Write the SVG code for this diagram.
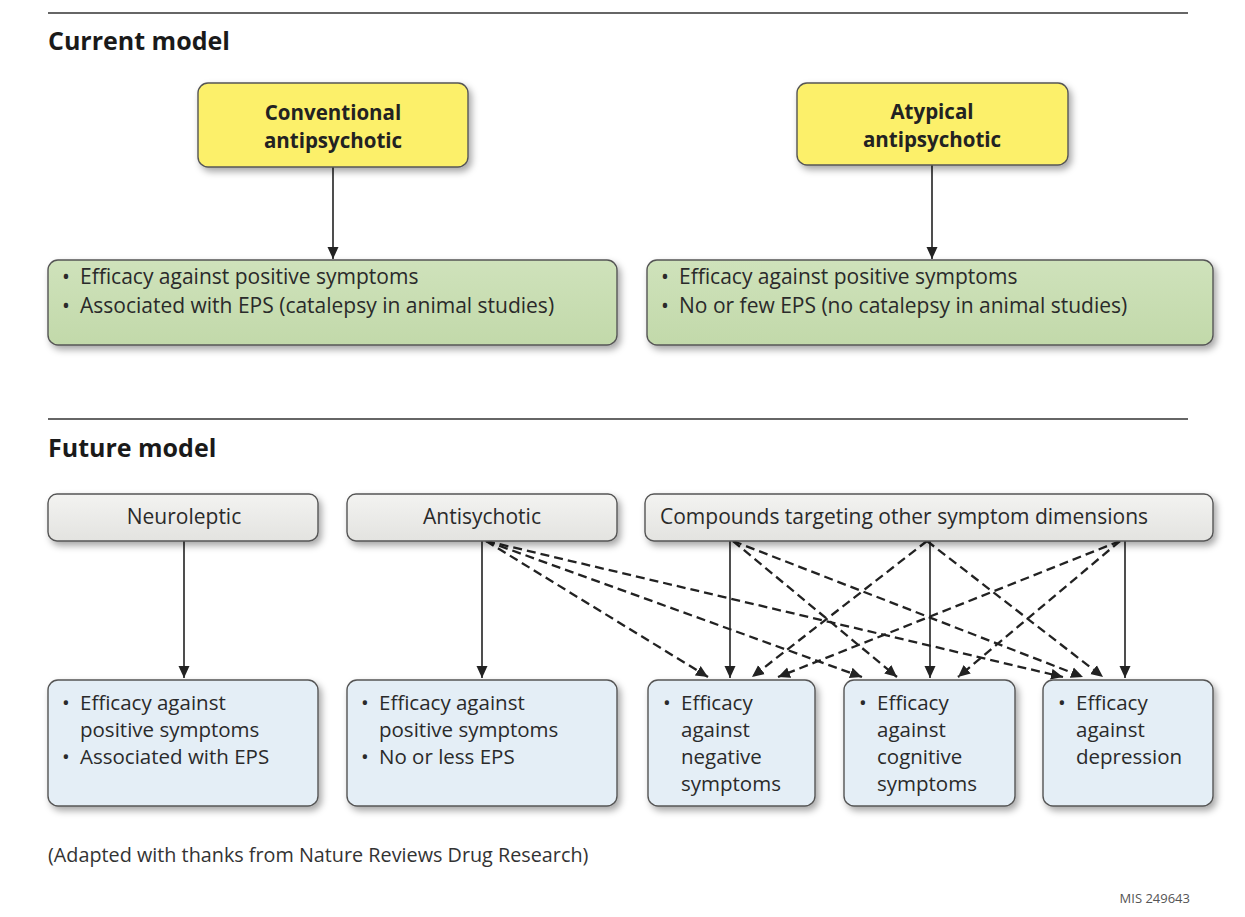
<svg xmlns="http://www.w3.org/2000/svg" width="1245" height="917" viewBox="0 0 1245 917">
<style>
.title{font-family:"Open Sans","Liberation Sans",sans-serif;font-weight:bold;font-size:25px;fill:#1a1a1a}
.hd{font-family:"Open Sans","Liberation Sans",sans-serif;font-weight:bold;font-size:20.5px;fill:#222;text-anchor:middle}
.t{font-family:"Open Sans","Liberation Sans",sans-serif;font-size:21px;fill:#2a2a2a}
.b{font-family:"Open Sans","Liberation Sans",sans-serif;font-size:20.5px;fill:#2a2a2a}
.tc{font-family:"Open Sans","Liberation Sans",sans-serif;font-size:21px;fill:#2a2a2a;text-anchor:middle}
.box{stroke:#555;stroke-width:1.4;filter:url(#sh)}
.yel{fill:#fcf06a}
.grn{fill:url(#gg)}
.gry{fill:url(#gy)}
.blu{fill:#e4eef6}
.rule{stroke:#333;stroke-width:1.6}
.s{stroke:#222;stroke-width:1.6;fill:none;marker-end:url(#ah)}
.d{stroke:#222;stroke-width:2.3;stroke-dasharray:9 5;fill:none;marker-end:url(#ah)}
.foot{font-family:"Open Sans","Liberation Sans",sans-serif;font-size:19.8px;fill:#333}
.mis{font-family:"Open Sans","Liberation Sans",sans-serif;font-size:13px;fill:#555;text-anchor:end}
</style>
<defs>
<filter id="sh" x="-10%" y="-20%" width="125%" height="160%">
<feDropShadow dx="3" dy="4" stdDeviation="3.5" flood-color="#000" flood-opacity="0.35"/>
</filter>
<linearGradient id="gg" x1="0" y1="0" x2="0" y2="1"><stop offset="0" stop-color="#cfe2bb"/><stop offset="1" stop-color="#c2d9aa"/></linearGradient>
<linearGradient id="gy" x1="0" y1="0" x2="0" y2="1"><stop offset="0" stop-color="#f3f3f1"/><stop offset="1" stop-color="#e3e3e0"/></linearGradient>
<marker id="ah" viewBox="0 0 12 12" refX="12" refY="6" markerWidth="12" markerHeight="12" markerUnits="userSpaceOnUse" orient="auto">
<path d="M0,0.5 L12,6 L0,11.5 z" fill="#222"/>
</marker>
</defs>
<rect width="1245" height="917" fill="#fff"/>

<line class="rule" x1="48" y1="13" x2="1188" y2="13"/>
<text class="title" x="48" y="50">Current model</text>
<line class="rule" x1="48" y1="419" x2="1188" y2="419"/>
<text class="title" x="48" y="457">Future model</text>

<g id="connectors">
<path class="s" d="M333,167 V259"/>
<path class="s" d="M932,165 V259"/>
<path class="s" d="M184,541 V678"/>
<path class="s" d="M482,541 V678"/>
<path class="s" d="M730,541 V678"/>
<path class="s" d="M930,541 V678"/>
<path class="s" d="M1125,541 V678"/>
<path class="d" d="M486,541 L708,677"/>
<path class="d" d="M486,541 L862,677"/>
<path class="d" d="M486,541 L1063,677"/>
<path class="d" d="M733,541 L897,677"/>
<path class="d" d="M733,541 L1083,677"/>
<path class="d" d="M927,541 L752,677"/>
<path class="d" d="M927,541 L1103,677"/>
<path class="d" d="M1120,541 L778,677"/>
<path class="d" d="M1120,541 L958,677"/>
</g>

<g id="conventional">
<rect class="box yel" x="198" y="83" width="270" height="84" rx="10"/>
<text class="hd" x="333" y="120">Conventional</text>
<text class="hd" x="333" y="148">antipsychotic</text>
</g>
<g id="atypical">
<rect class="box yel" x="797" y="83" width="271" height="82" rx="10"/>
<text class="hd" x="932" y="119">Atypical</text>
<text class="hd" x="932" y="147">antipsychotic</text>
</g>
<g id="conv-effects">
<rect class="box grn" x="48" y="260" width="569" height="85" rx="10"/>
<text class="t" x="62" y="284">•</text><text class="t" x="80" y="284">Efficacy against positive symptoms</text>
<text class="t" x="62" y="313">•</text><text class="t" x="80" y="313">Associated with EPS (catalepsy in animal studies)</text>
</g>
<g id="atyp-effects">
<rect class="box grn" x="647" y="260" width="566" height="85" rx="10"/>
<text class="t" x="661" y="284">•</text><text class="t" x="679" y="284">Efficacy against positive symptoms</text>
<text class="t" x="661" y="313">•</text><text class="t" x="679" y="313">No or few EPS (no catalepsy in animal studies)</text>
</g>

<g id="neuroleptic">
<rect class="box gry" x="48" y="494" width="270" height="47" rx="9"/>
<text class="tc" x="184" y="524">Neuroleptic</text>
</g>
<g id="antisychotic">
<rect class="box gry" x="347" y="494" width="270" height="47" rx="9"/>
<text class="tc" x="482" y="524">Antisychotic</text>
</g>
<g id="compounds">
<rect class="box gry" x="645" y="494" width="568" height="47" rx="9"/>
<text class="t" x="660" y="524">Compounds targeting other symptom dimensions</text>
</g>

<g id="neuro-effects">
<rect class="box blu" x="48" y="680" width="270" height="126" rx="10"/>
<text class="b" x="62" y="710">•</text><text class="b" x="80" y="710">Efficacy against</text>
<text class="b" x="80" y="737">positive symptoms</text>
<text class="b" x="62" y="764">•</text><text class="b" x="80" y="764">Associated with EPS</text>
</g>
<g id="antisy-effects">
<rect class="box blu" x="347" y="680" width="270" height="126" rx="10"/>
<text class="b" x="361" y="710">•</text><text class="b" x="379" y="710">Efficacy against</text>
<text class="b" x="379" y="737">positive symptoms</text>
<text class="b" x="361" y="764">•</text><text class="b" x="379" y="764">No or less EPS</text>
</g>
<g id="negative">
<rect class="box blu" x="648" y="680" width="167" height="126" rx="10"/>
<text class="b" x="663" y="710">•</text><text class="b" x="681" y="710">Efficacy</text>
<text class="b" x="681" y="737">against</text>
<text class="b" x="681" y="764">negative</text>
<text class="b" x="681" y="791">symptoms</text>
</g>
<g id="cognitive">
<rect class="box blu" x="844" y="680" width="171" height="126" rx="10"/>
<text class="b" x="859" y="710">•</text><text class="b" x="877" y="710">Efficacy</text>
<text class="b" x="877" y="737">against</text>
<text class="b" x="877" y="764">cognitive</text>
<text class="b" x="877" y="791">symptoms</text>
</g>
<g id="depression">
<rect class="box blu" x="1043" y="680" width="170" height="126" rx="10"/>
<text class="b" x="1058" y="710">•</text><text class="b" x="1076" y="710">Efficacy</text>
<text class="b" x="1076" y="737">against</text>
<text class="b" x="1076" y="764">depression</text>
</g>

<text class="foot" x="48" y="862">(Adapted with thanks from Nature Reviews Drug Research)</text>
<text class="mis" x="1190" y="903">MIS 249643</text>
</svg>
